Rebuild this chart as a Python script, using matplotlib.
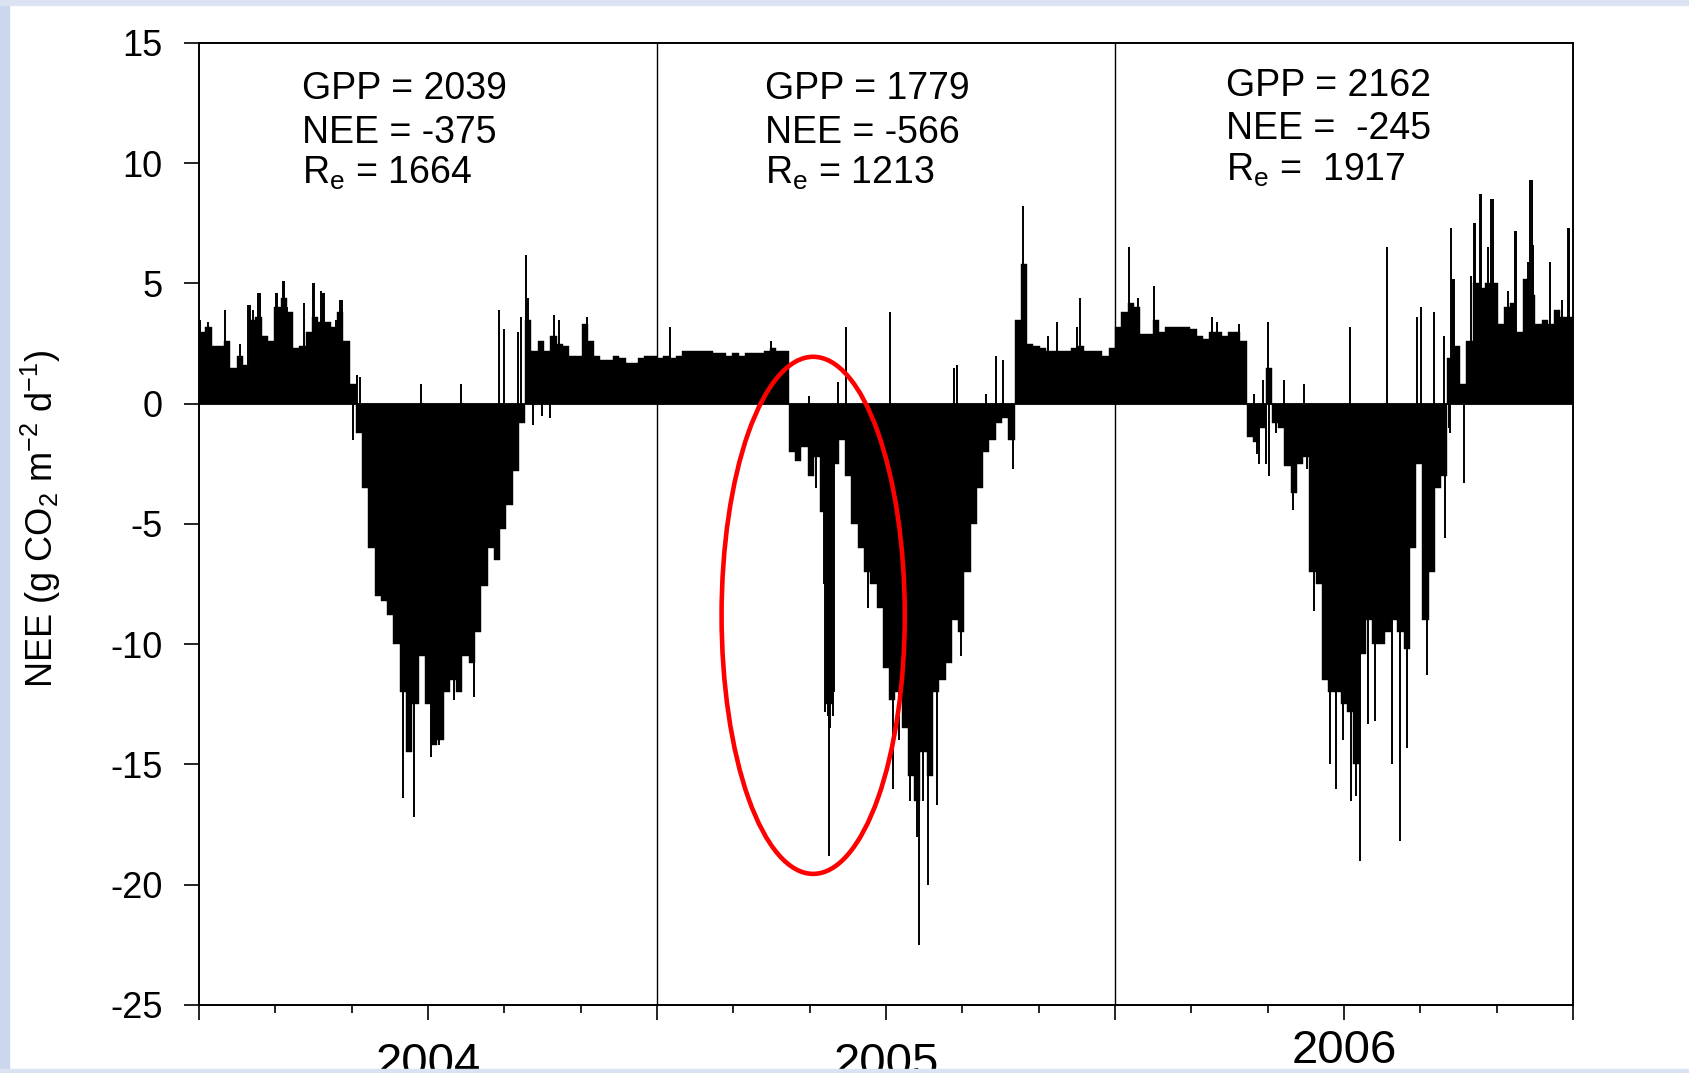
import numpy as np
import matplotlib.pyplot as plt
from matplotlib.patches import Ellipse, Rectangle
from matplotlib.transforms import ScaledTranslation

plt.rcParams['font.family'] = ['Liberation Sans', 'DejaVu Sans']

# 5-day NEE values (g CO2 m-2 d-1), one list per year
nee_2004 = [3.0, 3.2, 2.4, 2.4, 2.6, 1.5, 2.0, 1.6, 3.5, 3.6,
            2.8, 2.6, 4.0, 4.4, 3.8, 2.3, 2.4, 3.0, 3.6, 3.4,
            3.4, 3.2, 3.8, 2.6, 0.8, -1.2, -3.5, -6.0, -8.0, -8.2,
            -8.8, -10.0, -12.0, -14.5, -12.5, -10.5, -12.5, -14.2, -14.0, -12.0,
            -11.5, -12.0, -10.5, -10.8, -9.5, -7.6, -6.0, -6.5, -5.2, -4.2,
            -2.8, -0.8, 3.5, 2.2, 2.6, 2.2, 2.8, 2.5, 2.4, 2.0,
            2.0, 3.3, 2.6, 2.0, 1.8, 1.8, 2.0, 1.9, 1.7, 1.7,
            1.9, 2.0, 2.0]
nee_2005 = [1.9, 2.0, 1.9, 2.0, 2.2, 2.2, 2.2, 2.2, 2.2, 2.1,
            2.1, 2.0, 2.1, 2.0, 2.1, 2.1, 2.1, 2.2, 2.3, 2.2,
            2.2, -2.0, -2.4, -1.8, -3.0, -2.2, -4.5, -12.5, -2.5, -1.5,
            -3.0, -5.0, -6.0, -7.0, -7.5, -8.5, -11.0, -12.3, -12.0, -13.5,
            -15.5, -16.5, -14.5, -15.5, -12.0, -11.5, -10.8, -9.0, -9.5, -7.0,
            -5.0, -3.5, -2.0, -1.5, -0.8, -0.6, -1.5, 3.5, 5.8, 2.5,
            2.4, 2.3, 2.2, 2.2, 2.2, 2.2, 2.3, 2.4, 2.2, 2.2,
            2.2, 2.0, 2.3]
nee_2006 = [3.2, 3.8, 4.2, 4.0, 2.9, 2.9, 3.5, 3.0, 3.2, 3.2,
            3.2, 3.2, 3.1, 2.8, 2.7, 3.0, 3.0, 2.8, 3.0, 3.0,
            2.6, -1.4, -1.6, -1.0, 1.5, -0.8, -1.0, -2.6, -3.7, -2.5,
            -2.2, -7.0, -7.5, -11.5, -12.0, -12.0, -12.5, -12.8, -15.0, -10.4,
            -9.0, -10.0, -10.0, -9.5, -9.0, -9.5, -10.2, -6.0, -2.5, -9.0,
            -7.0, -3.5, -3.0, 1.9, 2.4, 0.8, 2.6, 5.0, 4.8, 5.0,
            5.0, 3.3, 4.0, 4.2, 3.0, 5.2, 4.5, 3.3, 3.5, 3.3,
            3.9, 3.6, 3.6]

# single-day spikes (day since start of record, NEE)
spike_day = [1, 7, 21, 33, 39, 41, 43, 47, 49, 61,
             62, 67, 68, 70, 84, 91, 92, 97, 99, 100,
             109, 112, 114,
             123, 126, 128, 163, 171, 177, 185, 191, 203, 209,
             219, 239, 243, 254, 257, 261, 262, 266, 273, 280,
             283, 287, 309,
             375, 456, 486, 492, 498, 499, 501, 502, 503, 505,
             506, 509, 516, 533, 551, 553, 558, 567, 572, 574,
             577, 581, 588, 602, 604, 607, 627, 635, 641, 649,
             657, 677, 684, 700, 702,
             741, 748, 761, 807, 811, 829, 841, 843, 845, 848,
             850, 852, 853, 858, 865, 872, 881, 883, 889, 901,
             906, 912, 917, 918, 922, 925, 932, 937, 947, 951,
             957, 963, 971, 974, 979, 984, 992, 993, 996, 997,
             998, 999, 1000, 1008, 1014, 1016, 1017, 1021, 1022, 1027,
             1030, 1031, 1043, 1049, 1050, 1059, 1061, 1062, 1063, 1077,
             1086, 1091, 1092]
spike_nee = [3.5, 3.4, 3.9, 2.5, 4.1, 4.1, 3.9, 4.6, 4.6, 4.6,
             4.6, 5.1, 5.1, 4.0, 4.2, 5.0, 5.0, 4.7, 4.6, 4.6,
             3.5, 4.3, 4.3,
             -1.5, 1.2, 1.1, -16.4, -17.2, 0.8, -14.7, -14.2, -12.3, 0.8,
             -12.2, 3.9, 3.1, 3.0, 3.6, 6.2, 4.4, -0.9, -0.5, -0.6,
             3.7, 3.5, 3.6,
             3.2, 2.6, 0.3, -3.5, -7.5, -12.8, -13.0, -18.8, -13.5, -13.0,
             -12.0, 0.9, 3.2, -8.5, 3.8, -16.0, -14.0, -16.5, -18.0, -22.5,
             -16.5, -20.0, -16.7, 1.5, 1.6, -10.5, 0.4, 2.0, 1.8, -2.7,
             8.2, 2.8, 3.4, 3.2, 4.4,
             6.5, 4.4, 4.9, 3.6, 3.4, 3.3, 0.4, -2.1, -2.5, 1.0,
             -2.5, 3.4, -3.0, -1.2, 1.0, -4.4, 0.8, -2.7, -8.6, -15.0,
             -16.0, -14.0, 3.2, -16.5, -16.3, -19.0, -13.3, -13.2, 6.5, -15.0,
             -18.2, -14.3, 3.6, 4.0, -11.3, 3.8, 2.8, -5.6, -1.0, -1.2,
             7.3, 5.2, 5.2, -3.3, 5.3, 7.5, 7.5, 8.7, 8.7, 6.5,
             8.5, 8.5, 4.7, 7.2, 7.2, 5.9, 9.3, 9.3, 6.6, 5.9,
             4.3, 7.3, 7.3]

years = ['2004', '2005', '2006']
gpp = [2039, 1779, 2162]
nee_sum = ['-375', '-566', ' -245']
re_sum = ['1664', '1213', ' 1917']

nee_all = nee_2004 + nee_2005 + nee_2006
bin_start = np.arange(len(nee_all)) * 5

fig = plt.figure(figsize=(16.89, 10.73), dpi=100)
# slide background strips
fig.patches.append(Rectangle((0, 0), 9 / 1689, 1, transform=fig.transFigure,
                             color='#cbd7ee', zorder=0))
fig.patches.append(Rectangle((0, 1 - 5 / 1073), 1, 5 / 1073, transform=fig.transFigure,
                             color='#dbe3f3', zorder=0))
fig.patches.append(Rectangle((0, 0), 1, 4 / 1073, transform=fig.transFigure,
                             color='#dbe3f3', zorder=0))

ax = fig.add_axes([0.1178, 0.0634, 0.8135, 0.8966])
ax.bar(bin_start, nee_all, width=5, align='edge', color='black',
       edgecolor='black', linewidth=0.3)
ax.vlines(spike_day, 0, spike_nee, color='black', lw=1.4)
ax.axhline(0, color='black', lw=1.3)
ax.axvline(365, color='black', lw=1.0)
ax.axvline(730, color='black', lw=1.0)

ax.set_xlim(0, 1095)
ax.set_ylim(-25, 15)
ax.set_yticks(range(-25, 16, 5))
ax.set_yticklabels([str(v) for v in range(-25, 16, 5)], fontsize=26)

major = [i * 182.5 for i in range(7)]
minor = [i * 365 / 6 for i in range(19) if i % 3 != 0]
ax.set_xticks(major)
ax.set_xticklabels(['', years[0], '', years[1], '', years[2], ''], fontsize=34)
ax.set_xticks(minor, minor=True)
ax.tick_params(axis='x', which='major', direction='out', length=11, width=1.2, pad=16)
ax.tick_params(axis='x', which='minor', direction='out', length=6, width=1.2)
ax.tick_params(axis='y', direction='out', length=11, width=1.2, pad=15)
lab06 = ax.get_xticklabels()[5]
lab06.set_transform(lab06.get_transform() + ScaledTranslation(0, 10 / 72, fig.dpi_scale_trans))

for s in ax.spines.values():
    s.set_linewidth(1.4)

ax.set_ylabel(r'NEE (g CO$_\mathregular{2}$ m$^\mathregular{-2}$ d$^\mathregular{-1}$)', fontsize=26)
ax.yaxis.set_label_coords(-0.099, 0.505)

text_x = [82, 451, 818.5]
for i in range(3):
    dy = 0.15 if i == 2 else 0
    ax.text(text_x[i], 13.07 + dy, 'GPP = %d' % gpp[i], fontsize=27, va='center')
    ax.text(text_x[i], 11.27 + dy, 'NEE = ' + nee_sum[i], fontsize=27, va='center')
    ax.text(text_x[i], 9.57 + dy, r'R$_\mathregular{e}$ = ' + re_sum[i], fontsize=27, va='center')

ax.add_patch(Ellipse((489.5, -8.8), 146, 21.5, fill=False, edgecolor='red', lw=3.3, zorder=5))

fig.savefig('out.png', dpi=100)
